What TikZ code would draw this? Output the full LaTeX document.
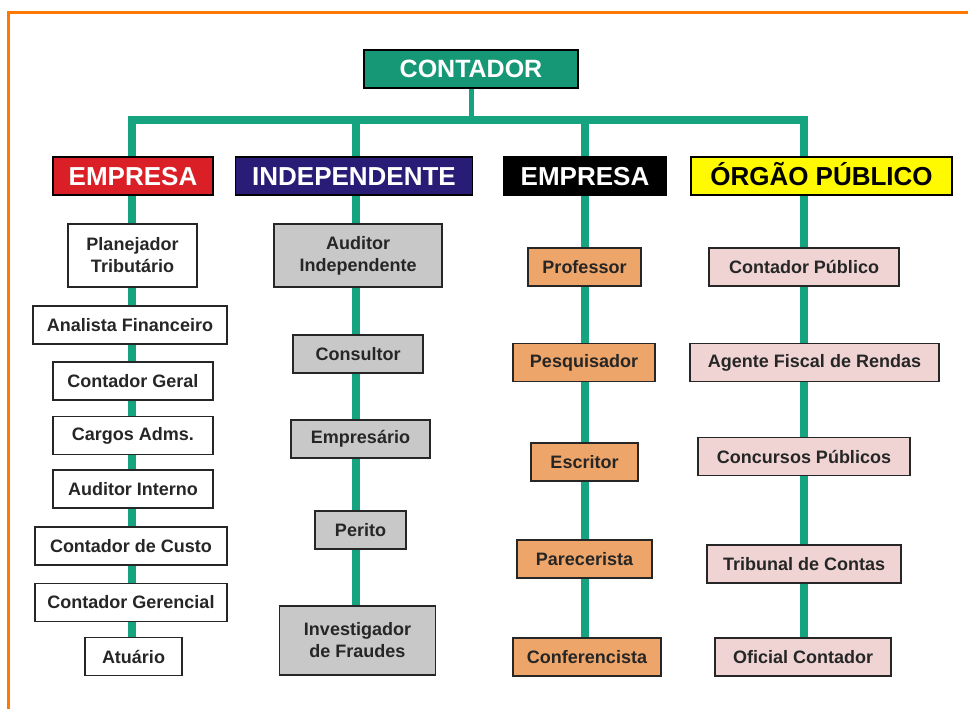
\documentclass[tikz,border=0pt]{standalone}
\usepackage{fontspec}
\setmainfont{Liberation Sans}
\usetikzlibrary{backgrounds}

\definecolor{tronco}{RGB}{22,163,128}
\definecolor{topo}{RGB}{22,152,118}
\definecolor{vermelho}{RGB}{218,32,38}
\definecolor{azul}{RGB}{40,28,118}
\definecolor{amarelo}{RGB}{255,250,0}
\definecolor{cinza}{RGB}{200,200,200}
\definecolor{laranja}{RGB}{238,165,105}
\definecolor{rosa}{RGB}{240,212,212}
\definecolor{moldura}{RGB}{255,120,0}

\tikzset{every picture/.style={line width=0.75pt}}
\tikzset{
	cargo/.style={draw=black!85, line width=1.6pt, inner sep=0pt, minimum height=38pt, align=center,
		font=\fontsize{18}{22}\selectfont\bfseries, text=black!85},
	grupo/.style={draw=black, line width=1.6pt, inner sep=0pt, minimum height=38pt,
		font=\fontsize{26}{30}\selectfont\bfseries, text=white, text height=18.6pt, text depth=0pt},
	ramo/.style={draw=tronco, line width=8pt},
	haste/.style={draw=tronco, line width=5pt}
}

\begin{document}
\begin{tikzpicture}[x=1pt,y=1pt,yscale=-1,xscale=1]
	\useasboundingbox (0,0) rectangle (968,709);

	%Frame
	\draw [moldura, line width=3pt] (8,709) -- (8,13) -- (968,13) ;

	% Top node
	\node [grupo, fill=topo, minimum width=214pt, font=\fontsize{25}{30}\selectfont\bfseries, text height=17.9pt] (ctd) at (471,69) {CONTADOR};

	% Group headers
	\node [grupo, fill=vermelho, minimum width=160pt] (emp) at (133,176) {EMPRESA};
	\node [grupo, fill=azul, minimum width=237pt] (ind) at (354,176) {INDEPENDENTE};
	\node [grupo, fill=black, minimum width=162pt] (ens) at (585,176) {EMPRESA};
	\node [grupo, fill=amarelo, minimum width=261pt, text=black] (org) at (821.5,176) {ÓRGÃO PÚBLICO};

	% Column 1
	\node [cargo, fill=white, minimum width=129pt, minimum height=63pt] (plan) at (132.5,255.5) {Planejador\\Tributário};
	\node [cargo, fill=white, minimum width=194pt] (anal) at (130,325) {Analista Financeiro};
	\node [cargo, fill=white, minimum width=160pt] (geral) at (133,381) {Contador Geral};
	\node [cargo, fill=white, minimum width=160pt] (adms) at (133,435.5) {Cargos Adms.};
	\node [cargo, fill=white, minimum width=160pt] (audi) at (133,489) {Auditor Interno};
	\node [cargo, fill=white, minimum width=192pt] (custo) at (131,546) {Contador de Custo};
	\node [cargo, fill=white, minimum width=192pt] (geren) at (131,602.5) {Contador Gerencial};
	\node [cargo, fill=white, minimum width=97pt] (atua) at (133.5,656.5) {Atuário};

	% Column 2
	\node [cargo, fill=cinza, minimum width=168pt, minimum height=63pt] (audind) at (358,255.5) {Auditor\\Independente};
	\node [cargo, fill=cinza, minimum width=130pt] (cons) at (358,354) {Consultor};
	\node [cargo, fill=cinza, minimum width=139pt] (empr) at (360.5,439) {Empresário};
	\node [cargo, fill=cinza, minimum width=91pt] (perito) at (360.5,530) {Perito};
	\node [cargo, fill=cinza, minimum width=156pt, minimum height=69pt] (invest) at (357.5,640.5) {Investigador\\de Fraudes};

	% Column 3
	\node [cargo, fill=laranja, minimum width=113pt] (prof) at (584.5,267) {Professor};
	\node [cargo, fill=laranja, minimum width=142pt] (pesq) at (584,362.5) {Pesquisador};
	\node [cargo, fill=laranja, minimum width=107pt] (escr) at (584.5,462) {Escritor};
	\node [cargo, fill=laranja, minimum width=135pt] (parec) at (584.5,559) {Parecerista};
	\node [cargo, fill=laranja, minimum width=148pt] (confer) at (587,657) {Conferencista};

	% Column 4
	\node [cargo, fill=rosa, minimum width=190pt] (cpub) at (804,267) {Contador Público};
	\node [cargo, fill=rosa, minimum width=249pt] (agente) at (814.5,362.5) {Agente Fiscal de Rendas};
	\node [cargo, fill=rosa, minimum width=212pt] (concur) at (804,456.5) {Concursos Públicos};
	\node [cargo, fill=rosa, minimum width=194pt] (tribun) at (804,564) {Tribunal de Contas};
	\node [cargo, fill=rosa, minimum width=176pt] (oficial) at (803,657) {Oficial Contador};

	% Branches
	\coordinate (b1) at (132,120);
	\coordinate (b2) at (356,120);
	\coordinate (b3) at (585,120);
	\coordinate (b4) at (804,120);
	\begin{pgfonlayer}{background}
		\draw [haste] (ctd) -- (ctd |- b1) ;
		\draw [ramo] (atua.north -| b1) -- (b1) -- (b4) -- (oficial.north -| b4) ;
		\draw [ramo] (b2) -- (invest.north -| b2) ;
		\draw [ramo] (b3) -- (confer.north -| b3) ;
	\end{pgfonlayer}

\end{tikzpicture}
\end{document}
